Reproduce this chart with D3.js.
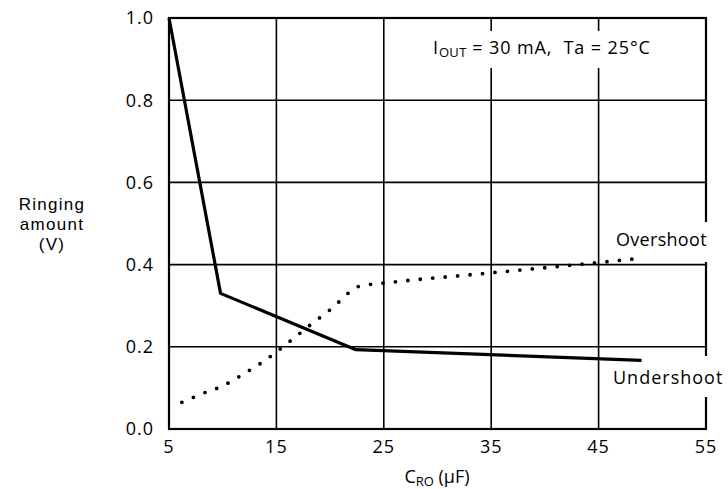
<!DOCTYPE html>
<html><head><meta charset="utf-8">
<script src="https://cdn.jsdelivr.net/npm/d3@7"></script>
<style>body{margin:0;background:#fff}svg{display:block}text{font-family:"Open Sans",sans-serif;fill:#000;font-weight:500;white-space:pre}</style>
</head><body><svg width="728" height="489"></svg>
<script>
const xTicks = [5, 15, 25, 35, 45, 55];
const yTicks = [0.0, 0.2, 0.4, 0.6, 0.8, 1.0];
const undershootX = [5, 9.8, 22.4, 49];
const undershootY = [1.0, 0.33, 0.193, 0.167];
const overshootX = [6.2, 8, 10, 12, 14, 16, 18, 20, 22.8, 25, 35, 45, 48.8];
const overshootY = [0.065, 0.085, 0.105, 0.135, 0.168, 0.208, 0.25, 0.29, 0.348, 0.355, 0.38, 0.405, 0.415];
const yTitleLines = ["Ringing", "amount", "(V)"];

const svg = d3.select("svg");
const L = 169, R = 706, T = 18, B = 429;
const x = d3.scaleLinear().domain([5, 55]).range([L, R]);
const y = d3.scaleLinear().domain([0, 1]).range([B, T]);

// grid
svg.append("g").selectAll("line").data(xTicks.slice(1, -1)).join("line")
  .attr("x1", d => x(d)).attr("x2", d => x(d)).attr("y1", T).attr("y2", B)
  .attr("stroke", "#000").attr("stroke-width", 1.6);
svg.append("g").selectAll("line").data(yTicks.slice(1, -1)).join("line")
  .attr("y1", d => y(d)).attr("y2", d => y(d)).attr("x1", L).attr("x2", R)
  .attr("stroke", "#000").attr("stroke-width", 1.6);
svg.append("rect").attr("x", L).attr("y", T).attr("width", R - L).attr("height", B - T)
  .attr("fill", "none").attr("stroke", "#000").attr("stroke-width", 2.2);

// white gaps behind annotations
svg.append("rect").attr("x", 430).attr("y", 31).attr("width", 226).attr("height", 37).attr("fill", "#fff");
svg.append("rect").attr("x", 612).attr("y", 222).attr("width", 110).attr("height", 40).attr("fill", "#fff");
svg.append("rect").attr("x", 610).attr("y", 356).attr("width", 118).attr("height", 41).attr("fill", "#fff");

// ticks labels
svg.append("g").selectAll("text").data(yTicks).join("text")
  .attr("x", 154).attr("y", d => y(d)).attr("dy", "0.36em").attr("text-anchor", "end")
  .attr("font-size", 18).attr("letter-spacing", 1).text(d => d.toFixed(1));
svg.append("g").selectAll("text").data(xTicks).join("text")
  .attr("x", d => x(d)).attr("y", 453).attr("text-anchor", "middle")
  .attr("font-size", 18).attr("letter-spacing", 1).text(d => d);

// axis titles
svg.append("g").selectAll("text").data(yTitleLines).join("text")
  .attr("x", 52).attr("y", (d, i) => 210 + i * 20).attr("text-anchor", "middle")
  .style("font-family", "'Liberation Sans', sans-serif").attr("font-size", 17)
  .attr("letter-spacing", 1.3).text(d => d);
const xt = svg.append("text").attr("x", 437).attr("y", 483).attr("text-anchor", "middle").attr("font-size", 18);
xt.append("tspan").text("C");
xt.append("tspan").attr("font-size", 13).attr("dy", 3).text("RO");
xt.append("tspan").attr("dy", -3).text(" (\u03BCF)");

// annotation
const an = svg.append("text").attr("x", 433).attr("y", 54).attr("font-size", 18).attr("letter-spacing", 0.9);
an.append("tspan").text("I");
an.append("tspan").attr("font-size", 13).attr("dy", 3).attr("letter-spacing", 0.3).text("OUT");
an.append("tspan").attr("dy", -3).text(" = 30 mA,  Ta = 25\u00B0C");

svg.append("text").attr("x", 616).attr("y", 246).attr("font-size", 18).attr("letter-spacing", 0.3).text("Overshoot");
svg.append("text").attr("x", 613).attr("y", 384).attr("font-size", 18).attr("letter-spacing", 1).text("Undershoot");

// lines
const line = d3.line().x(d => x(d[0])).y(d => y(d[1]));
svg.append("path").datum(undershootX.map((v, i) => [v, undershootY[i]]))
  .attr("d", line).attr("fill", "none").attr("stroke", "#000").attr("stroke-width", 3.2)
  .attr("stroke-linejoin", "round");
svg.append("path").datum(overshootX.map((v, i) => [v, overshootY[i]]))
  .attr("d", d3.line().x(d => x(d[0])).y(d => y(d[1])).curve(d3.curveMonotoneX))
  .attr("fill", "none").attr("stroke", "#000").attr("stroke-width", 3.8)
  .attr("stroke-linecap", "round").attr("stroke-dasharray", "0 12.5");
</script></body></html>
